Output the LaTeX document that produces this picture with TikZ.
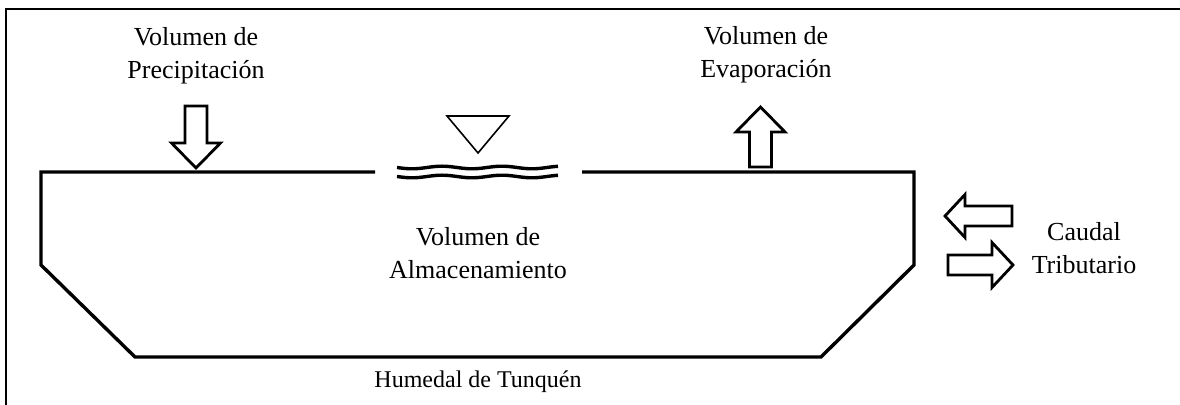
\documentclass[tikz,border=0pt]{standalone}
\usepackage{fontspec}
\setmainfont{Liberation Serif}
\usepackage{tikz}
\usetikzlibrary{positioning}
\tikzstyle{rotulo}=[align=center, font=\fontsize{13}{16.5}\selectfont, inner sep=0pt]
\tikzstyle{humedal}=[line width=1.7pt, line join=miter]
\tikzstyle{flecha}=[line width=1.4pt, fill=white, line join=miter]
\tikzstyle{ola}=[line width=1.7pt]

\begin{document}
\begin{tikzpicture}[x=0.5pt, y=-0.5pt]
    \useasboundingbox (0,0) rectangle (1180,405);
    % marco
    \draw[line width=1pt] (1180,9) -- (6,9) -- (6,405);

    % humedal
    \coordinate (bordeIzq) at (375,172);
    \coordinate (bordeDer) at (582,172);
    \draw[humedal] (bordeIzq) -- (41,172) -- (41,265) -- (135,357)
        -- (821,357) -- (914,265) -- (914,172) -- (bordeDer);

    % nivel de agua
    \draw[line width=0.8pt] (447,116) -- (509,116) -- (478,153) -- cycle;
    \draw[ola] plot[domain=0:161, samples=80, smooth] ({397+\x}, {167.5+1.3*sin(6*\x)});
    \draw[ola] plot[domain=0:161, samples=80, smooth] ({397+\x}, {176.5+1.3*sin(6*\x)});

    % flechas
    \draw[flecha, shift={(196,168)}] (0,0) -- (-24.5,-25) -- (-11,-25) -- (-11,-62)
        -- (11,-62) -- (11,-25) -- (24.5,-25) -- cycle;
    \draw[flecha, shift={(760.5,107)}] (0,0) -- (-24.5,25) -- (-11,25) -- (-11,60)
        -- (11,60) -- (11,25) -- (24.5,25) -- cycle;
    \draw[flecha, shift={(945,216)}] (0,0) -- (20,-21.5) -- (20,-10) -- (67,-10)
        -- (67,10) -- (20,10) -- (20,21.5) -- cycle;
    \draw[flecha, shift={(1013,265)}] (0,0) -- (-21,-22.5) -- (-21,-10) -- (-65,-10)
        -- (-65,10) -- (-21,10) -- (-21,22.5) -- cycle;

    % textos
    \node (precip) [rotulo] at (196,56) {Volumen de\\Precipitación};
    \node (evap) [rotulo] at (766,55) {Volumen de\\Evaporación};
    \node (almac) [rotulo] at (478,253) {Volumen de\\Almacenamiento};
    \node (caudal) [rotulo] at (1084,248) {Caudal\\Tributario};
    \node (nombre) [rotulo, font=\fontsize{12}{14}\selectfont] at (478,382) {Humedal de Tunquén};
\end{tikzpicture}
\end{document}
